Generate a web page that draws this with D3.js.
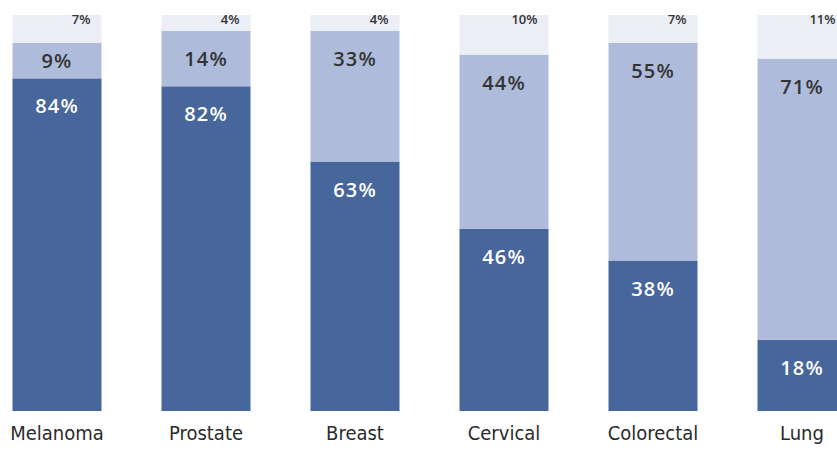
<!DOCTYPE html>
<html>
<head>
<meta charset="utf-8">
<script src="https://cdn.jsdelivr.net/npm/d3@7"></script>
<style>
  body { margin: 0; background: #fff; }
  svg { display: block; }
</style>
</head>
<body>
<div id="chart"></div>
<script>
// chart data
var categories = ["Melanoma", "Prostate", "Breast", "Cervical", "Colorectal", "Lung"];
var bottomValues = [84, 82, 63, 46, 38, 18];
var middleValues = [9, 14, 33, 44, 55, 71];
var topValues = [7, 4, 4, 10, 7, 11];

var svgWidth = 837, svgHeight = 451;

var svg = d3.select("#chart")
  .append("svg")
  .attr("width", svgWidth)
  .attr("height", svgHeight);

var rows = categories.map(function(c, i) {
  return { cat: c, bottom: bottomValues[i], middle: middleValues[i], top: topValues[i] };
});

var keys = ["bottom", "middle", "top"];
var colors = { bottom: "#47669b", middle: "#aebbdb", top: "#eceef5" };

var stack = d3.stack().keys(keys);
var series = stack(rows);

var xScale = d3.scaleBand()
  .domain(categories)
  .range([12.5, 846.5])
  .paddingInner(60 / 149)
  .paddingOuter(0);

var yScale = d3.scaleLinear()
  .domain([0, 100])
  .range([411, 15]);

// stacked segments
var groups = svg.append("g").selectAll("g")
  .data(series)
  .enter()
  .append("g")
  .attr("fill", function(s) { return colors[s.key]; });

groups.selectAll("rect")
  .data(function(s) { return s; })
  .enter()
  .append("rect")
  .attr("x", function(d) { return xScale(d.data.cat); })
  .attr("y", function(d) { return yScale(d[1]); })
  .attr("width", xScale.bandwidth())
  .attr("height", function(d) { return yScale(d[0]) - yScale(d[1]); });

// value labels for bottom and middle segments
series.slice(0, 2).forEach(function(s) {
  svg.append("g").selectAll("text")
    .data(s)
    .enter()
    .append("text")
    .attr("x", function(d) { return xScale(d.data.cat) + xScale.bandwidth() / 2; })
    .attr("y", function(d) {
      var top = yScale(d[1]), bot = yScale(d[0]);
      return Math.min(top + 28, (top + bot) / 2);
    })
    .attr("dy", "0.35em")
    .attr("text-anchor", "middle")
    .attr("font-family", "'Open Sans', sans-serif")
    .attr("font-weight", 600)
    .attr("font-size", 20)
    .attr("letter-spacing", 1.2)
    .attr("fill", s.key === "bottom" ? "#ffffff" : "#333333")
    .text(function(d) { return d.data[s.key] + "%"; });
});

// small labels for the top segments
svg.append("g").selectAll("text")
  .data(series[2])
  .enter()
  .append("text")
  .attr("x", function(d) { return xScale(d.data.cat) + xScale.bandwidth() - 11; })
  .attr("y", 24)
  .attr("text-anchor", "end")
  .attr("font-family", "'Open Sans', sans-serif")
  .attr("font-weight", 600)
  .attr("font-size", 13)
  .attr("fill", "#333333")
  .text(function(d) { return d.data.top + "%"; });

// category labels
var xAxis = d3.axisBottom(xScale).tickSize(0).tickPadding(0);
var axisG = svg.append("g")
  .attr("transform", "translate(0, 426)")
  .call(xAxis);
axisG.select(".domain").remove();
axisG.selectAll("text")
  .attr("font-family", "'Liberation Sans Narrow', 'DejaVu Sans Condensed', sans-serif")
  .attr("font-size", 20)
  .attr("fill", "#2b2b2b");
</script>
</body>
</html>
